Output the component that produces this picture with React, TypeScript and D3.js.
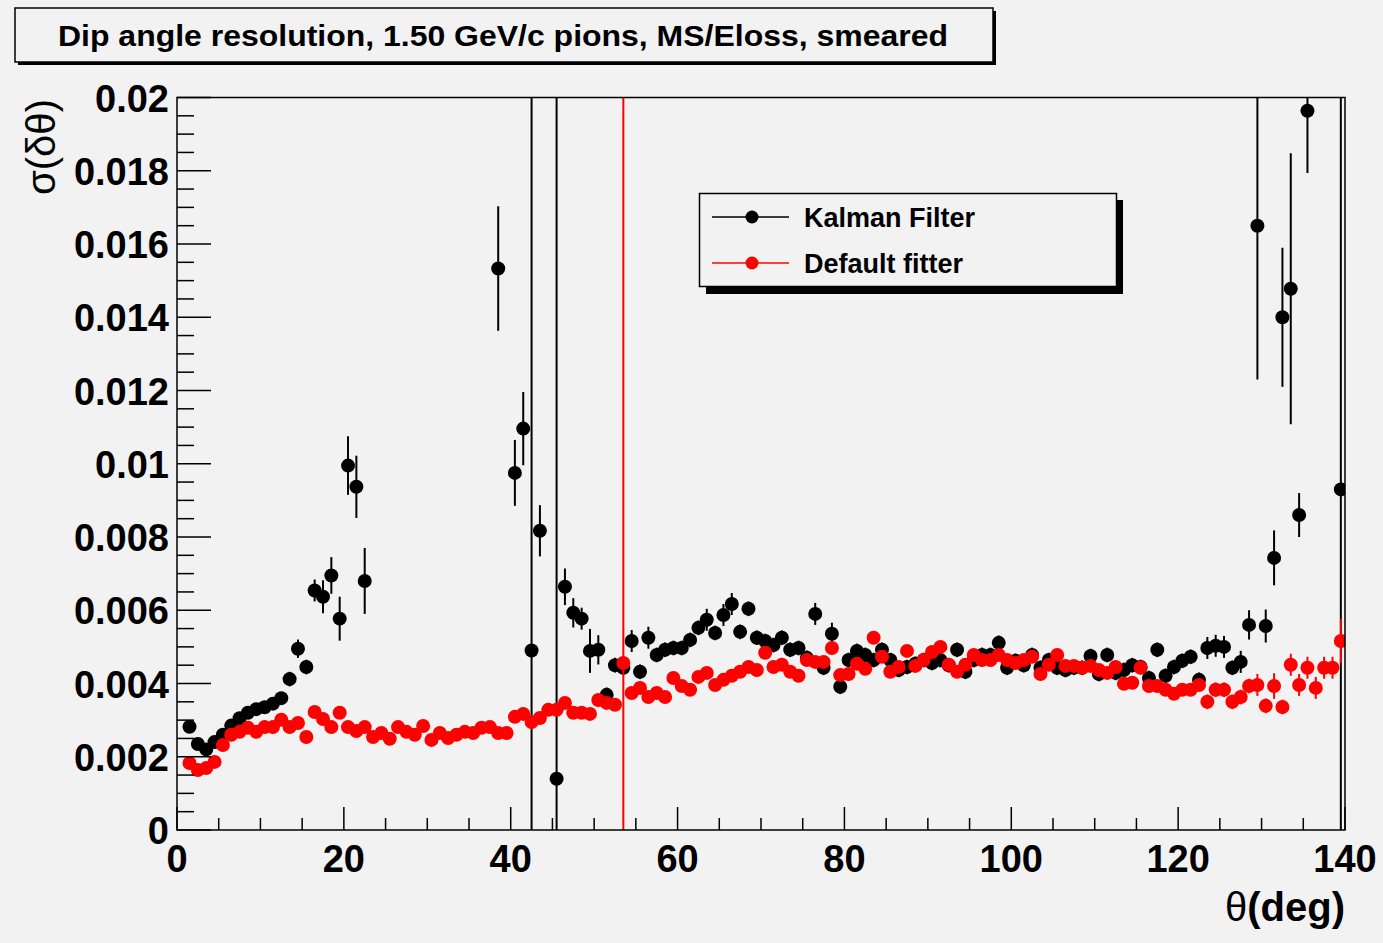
import React from "react";
import * as d3 from "d3";

// theta bin centers: bins of 1 deg from 0 to 140
const binLow: number[] = d3.range(0, 140);

// Kalman Filter sigma(dtheta) per bin (null = empty bin)
const kalmanValues: (number | null)[] = [
  null, 0.00282, 0.00235, 0.0022, 0.0024, 0.0026, 0.00285, 0.00305, 0.0032, 0.0033,
  0.00335, 0.00345, 0.0036, 0.00412, 0.00495, 0.00445, 0.00654, 0.00637, 0.00695, 0.00577,
  0.00995, 0.00937, 0.0068, null, null, null, null, null, null, null,
  null, null, null, null, null, null, null, null, 0.01533, null,
  0.00975, 0.01096, 0.0049, 0.00817, null, 0.0014, 0.00664, 0.00593, 0.00577, 0.00489,
  0.00492, 0.00369, 0.0045, 0.00443, 0.00516, 0.00432, 0.00525, 0.00478, 0.00492, 0.00497,
  0.00497, 0.00519, 0.00552, 0.00574, 0.00538, 0.00587, 0.00617, 0.00541, 0.00604, 0.00525,
  0.00516, 0.00505, 0.00525, 0.00492, 0.00497, 0.0047, 0.0059, 0.00443, 0.00536, 0.00391,
  0.00464, 0.00489, 0.00478, 0.00464, 0.00492, 0.00464, 0.00437, 0.00445, 0.00454, 0.00464,
  0.00456, 0.00464, 0.0045, 0.00492, 0.00432, 0.00464, 0.00478, 0.00478, 0.00511, 0.00443,
  0.00462, 0.0045, 0.00478, 0.00443, 0.00464, 0.00443, 0.00437, 0.00443, 0.00443, 0.00475,
  0.00426, 0.00478, 0.00429, 0.00437, 0.0045, 0.00445, 0.00415, 0.00492, 0.00421, 0.00445,
  0.00462, 0.00473, 0.0041, 0.00497, 0.00503, 0.005, 0.00443, 0.00459, 0.0056, 0.0165,
  0.00557, 0.00743, 0.014, 0.01478, 0.0086, 0.01964, null, null, null, 0.0093,
];

const kalmanErrors: number[] = [
  0, 0.00012, 0.00012, 0.00012, 0.00012, 0.00012, 0.00012, 0.00012, 0.00012, 0.00012,
  0.00012, 0.00012, 0.00015, 0.0002, 0.00025, 0.0002, 0.0003, 0.00045, 0.0005, 0.0006,
  0.0008, 0.00085, 0.0009, 0, 0, 0, 0, 0, 0, 0,
  0, 0, 0, 0, 0, 0, 0, 0, 0.0017, 0,
  0.0009, 0.001, 0.03, 0.0007, 0, 0.03, 0.0005, 0.0004, 0.0003, 0.0006,
  0.0004, 0.0002, 0.0002, 0.0002, 0.0003, 0.0002, 0.0003, 0.0002, 0.0002, 0.0002,
  0.0002, 0.0002, 0.0002, 0.0003, 0.0002, 0.0003, 0.0003, 0.0002, 0.0002, 0.0002,
  0.0002, 0.0002, 0.0002, 0.0002, 0.0002, 0.0002, 0.0003, 0.0002, 0.0003, 0.0002,
  0.0002, 0.0002, 0.0002, 0.0002, 0.0002, 0.0002, 0.0002, 0.0002, 0.0002, 0.0002,
  0.0002, 0.0002, 0.0002, 0.0002, 0.0002, 0.0002, 0.0002, 0.0002, 0.0002, 0.0002,
  0.0002, 0.0002, 0.0002, 0.0002, 0.0002, 0.0002, 0.0002, 0.0002, 0.0002, 0.0002,
  0.0002, 0.0002, 0.0002, 0.0002, 0.0002, 0.0002, 0.0002, 0.0002, 0.0002, 0.0002,
  0.0002, 0.0002, 0.0002, 0.0003, 0.0003, 0.0003, 0.0002, 0.0003, 0.0004, 0.0042,
  0.00045, 0.00075, 0.0019, 0.0037, 0.0006, 0.0017, 0, 0, 0, 0.03,
];

// Default fitter sigma(dtheta) per bin
const defaultValues: (number | null)[] = [
  null, 0.00183, 0.00164, 0.00169, 0.00186, 0.00232, 0.0026, 0.00268, 0.00279, 0.00268,
  0.00281, 0.00281, 0.00301, 0.00281, 0.00292, 0.00254, 0.00322, 0.00303, 0.00281, 0.0032,
  0.00281, 0.0027, 0.00281, 0.00254, 0.00265, 0.00249, 0.00281, 0.00268, 0.0026, 0.00284,
  0.00246, 0.00265, 0.00251, 0.0026, 0.00268, 0.00265, 0.00279, 0.00281, 0.00265, 0.00265,
  0.00309, 0.00317, 0.00295, 0.00306, 0.00328, 0.00328, 0.00347, 0.0032, 0.0032, 0.00317,
  0.00355, 0.00347, 0.00342, 0.00456, 0.00374, 0.00388, 0.00363, 0.00374, 0.00363, 0.00415,
  0.00393, 0.00383, 0.00418, 0.00429, 0.00396, 0.0041, 0.00421, 0.00432, 0.00445, 0.00437,
  0.00484, 0.00445, 0.00451, 0.00432, 0.00421, 0.00464, 0.00459, 0.00459, 0.00497, 0.00423,
  0.00426, 0.00454, 0.0044, 0.00525, 0.00473, 0.00432, 0.00445, 0.00489, 0.00448, 0.00464,
  0.00486, 0.005, 0.00451, 0.00432, 0.00451, 0.00478, 0.00464, 0.00464, 0.00478, 0.00464,
  0.00456, 0.00464, 0.00473, 0.00426, 0.00451, 0.00478, 0.00448, 0.00448, 0.00443, 0.00448,
  0.00437, 0.00429, 0.00445, 0.00399, 0.00402, 0.00443, 0.00393, 0.00393, 0.00383, 0.00372,
  0.00383, 0.00383, 0.00396, 0.0035, 0.00383, 0.00383, 0.0035, 0.00363, 0.00393, 0.00396,
  0.00339, 0.00393, 0.00336, 0.00451, 0.00396, 0.00443, 0.00388, 0.00443, 0.00443, 0.00516,
];

const defaultErrors: number[] = [
  0, 0.0001, 0.0001, 0.0001, 0.0001, 0.0001, 0.0001, 0.0001, 0.0001, 0.0001,
  0.0001, 0.0001, 0.0001, 0.0001, 0.0001, 0.0001, 0.0001, 0.0001, 0.0001, 0.0001,
  0.0001, 0.0001, 0.0001, 0.0001, 0.0001, 0.0001, 0.0001, 0.0001, 0.0001, 0.0001,
  0.0001, 0.0001, 0.0001, 0.0001, 0.0001, 0.0001, 0.0001, 0.0001, 0.0001, 0.0001,
  0.0001, 0.0001, 0.0001, 0.0001, 0.0001, 0.0001, 0.0001, 0.0001, 0.0001, 0.0001,
  0.0001, 0.0001, 0.0001, 0.03, 0.0001, 0.0001, 0.0001, 0.0001, 0.0001, 0.0001,
  0.0001, 0.0001, 0.0001, 0.0001, 0.0001, 0.0001, 0.0001, 0.0001, 0.0001, 0.0001,
  0.0001, 0.0001, 0.0001, 0.0001, 0.0001, 0.0001, 0.0001, 0.0001, 0.0001, 0.0001,
  0.0001, 0.0001, 0.0001, 0.00015, 0.0001, 0.0001, 0.0001, 0.0001, 0.0001, 0.0001,
  0.0001, 0.0001, 0.0001, 0.0001, 0.0001, 0.0001, 0.0001, 0.0001, 0.0001, 0.0001,
  0.0001, 0.0001, 0.0001, 0.0001, 0.0001, 0.0001, 0.0001, 0.0001, 0.0001, 0.0001,
  0.0001, 0.0001, 0.0001, 0.00015, 0.00015, 0.00015, 0.00015, 0.00015, 0.00015, 0.00015,
  0.00015, 0.00015, 0.00015, 0.0002, 0.0002, 0.0002, 0.0002, 0.0002, 0.0002, 0.0003,
  0.0002, 0.00035, 0.0002, 0.0003, 0.0003, 0.0003, 0.0003, 0.0003, 0.0003, 0.0006,
];

const seriesNames: string[] = ["Kalman Filter", "Default fitter"];
const seriesColors: string[] = ["#000000", "#ff0000"];
const xTickValues: number[] = [0, 20, 40, 60, 80, 100, 120, 140];
const yTickValues: number[] = d3.range(0, 11).map((i) => +(i * 0.002).toFixed(3));
const titleText = "Dip angle resolution, 1.50 GeV/c pions, MS/Eloss, smeared";

const W = 1383;
const H = 943;
const FONT = "'Liberation Sans', Arial, Helvetica, sans-serif";

export default function App() {
  const x = d3.scaleLinear().domain([0, 140]).range([177, 1345]);
  const y = d3.scaleLinear().domain([0, 0.02]).range([830, 97.5]);
  const [x0, x1] = x.range();
  const [y0, y1] = y.range();

  const xMinor = d3.range(0, 141, 5);
  const yMinor = d3.range(0, 41).map((i) => i * 0.0005);

  const fmt = (v: number) => (v === 0 ? "0" : String(+v.toFixed(3)));

  const series = [
    { vals: kalmanValues, errs: kalmanErrors, color: seriesColors[0] },
    { vals: defaultValues, errs: defaultErrors, color: seriesColors[1] },
  ];

  const clampY = (v: number) => Math.max(y1, Math.min(y0, v));

  return (
    <svg
      width={W}
      height={H}
      style={{ position: "fixed", left: 0, top: 0, display: "block" }}
      fontFamily={FONT}
    >
      <rect x={0} y={0} width={W} height={H} fill="#f2f2f2" />
      <defs>
        <clipPath id="plotclip">
          <rect x={x0} y={y1} width={x1 - x0} height={y0 - y1} />
        </clipPath>
      </defs>

      {/* title box */}
      <rect x={18} y={11} width={978} height={54} fill="#000" />
      <rect x={15} y={8} width={978} height={54} fill="#f2f2f2" stroke="#000" strokeWidth={1.5} />
      <text
        x={503}
        y={46}
        textAnchor="middle"
        fontSize={29}
        fontWeight="bold"
        textLength={890}
        lengthAdjust="spacingAndGlyphs"
      >
        {titleText}
      </text>

      {/* data */}
      <g clipPath="url(#plotclip)">
        {series.map((s, si) => (
          <g key={si}>
            {binLow.map((b, i) => {
              const v = s.vals[i];
              if (v === null || v === undefined) return null;
              const e = s.errs[i];
              const cx = x(b + 0.5);
              return (
                <g key={i}>
                  {e > 0 && (
                    <line
                      x1={cx}
                      x2={cx}
                      y1={clampY(y(v - e))}
                      y2={clampY(y(v + e))}
                      stroke={s.color}
                      strokeWidth={2}
                    />
                  )}
                  <circle cx={cx} cy={y(v)} r={7} fill={s.color} />
                </g>
              );
            })}
          </g>
        ))}
      </g>

      {/* frame */}
      <rect x={x0} y={y1} width={x1 - x0} height={y0 - y1} fill="none" stroke="#000" strokeWidth={1.5} />

      {/* x ticks */}
      {xMinor.map((t) => {
        const major = t % 20 === 0;
        return (
          <line key={"xt" + t} x1={x(t)} x2={x(t)} y1={y0} y2={y0 - (major ? 23 : 12)} stroke="#000" strokeWidth={1.5} />
        );
      })}
      {xTickValues.map((t) => (
        <text key={"xl" + t} x={x(t)} y={872} textAnchor="middle" fontSize={38} fontWeight="bold">
          {t}
        </text>
      ))}

      {/* y ticks */}
      {yMinor.map((t, i) => {
        const major = i % 4 === 0;
        return (
          <line key={"yt" + i} x1={x0} x2={x0 + (major ? 34 : 17)} y1={y(t)} y2={y(t)} stroke="#000" strokeWidth={1.5} />
        );
      })}
      {yTickValues.map((t) => (
        <text key={"yl" + t} x={169} y={y(t) + 14} textAnchor="end" fontSize={38} fontWeight="bold">
          {fmt(t)}
        </text>
      ))}

      {/* axis titles */}
      <text x={1345} y={921} textAnchor="end" fontSize={40} fontWeight="bold">
        <tspan fontWeight="normal">θ</tspan>(deg)
      </text>
      <text
        transform="translate(55,99) rotate(-90)"
        textAnchor="end"
        fontSize={40}
        textLength={96}
        lengthAdjust="spacingAndGlyphs"
      >
        σ(δθ)
      </text>

      {/* legend */}
      <rect x={706} y={200} width={417} height={94} fill="#000" />
      <rect x={699.5} y={193.5} width={417} height={93} fill="#f2f2f2" stroke="#000" strokeWidth={1.5} />
      {seriesNames.map((name, i) => {
        const ly = 217 + i * 46;
        return (
          <g key={name}>
            <line x1={712} x2={789} y1={ly} y2={ly} stroke={seriesColors[i]} strokeWidth={1.5} />
            <circle cx={752} cy={ly} r={6.5} fill={seriesColors[i]} />
            <text x={804} y={ly + 10} fontSize={27} fontWeight="bold">
              {name}
            </text>
          </g>
        );
      })}
    </svg>
  );
}
